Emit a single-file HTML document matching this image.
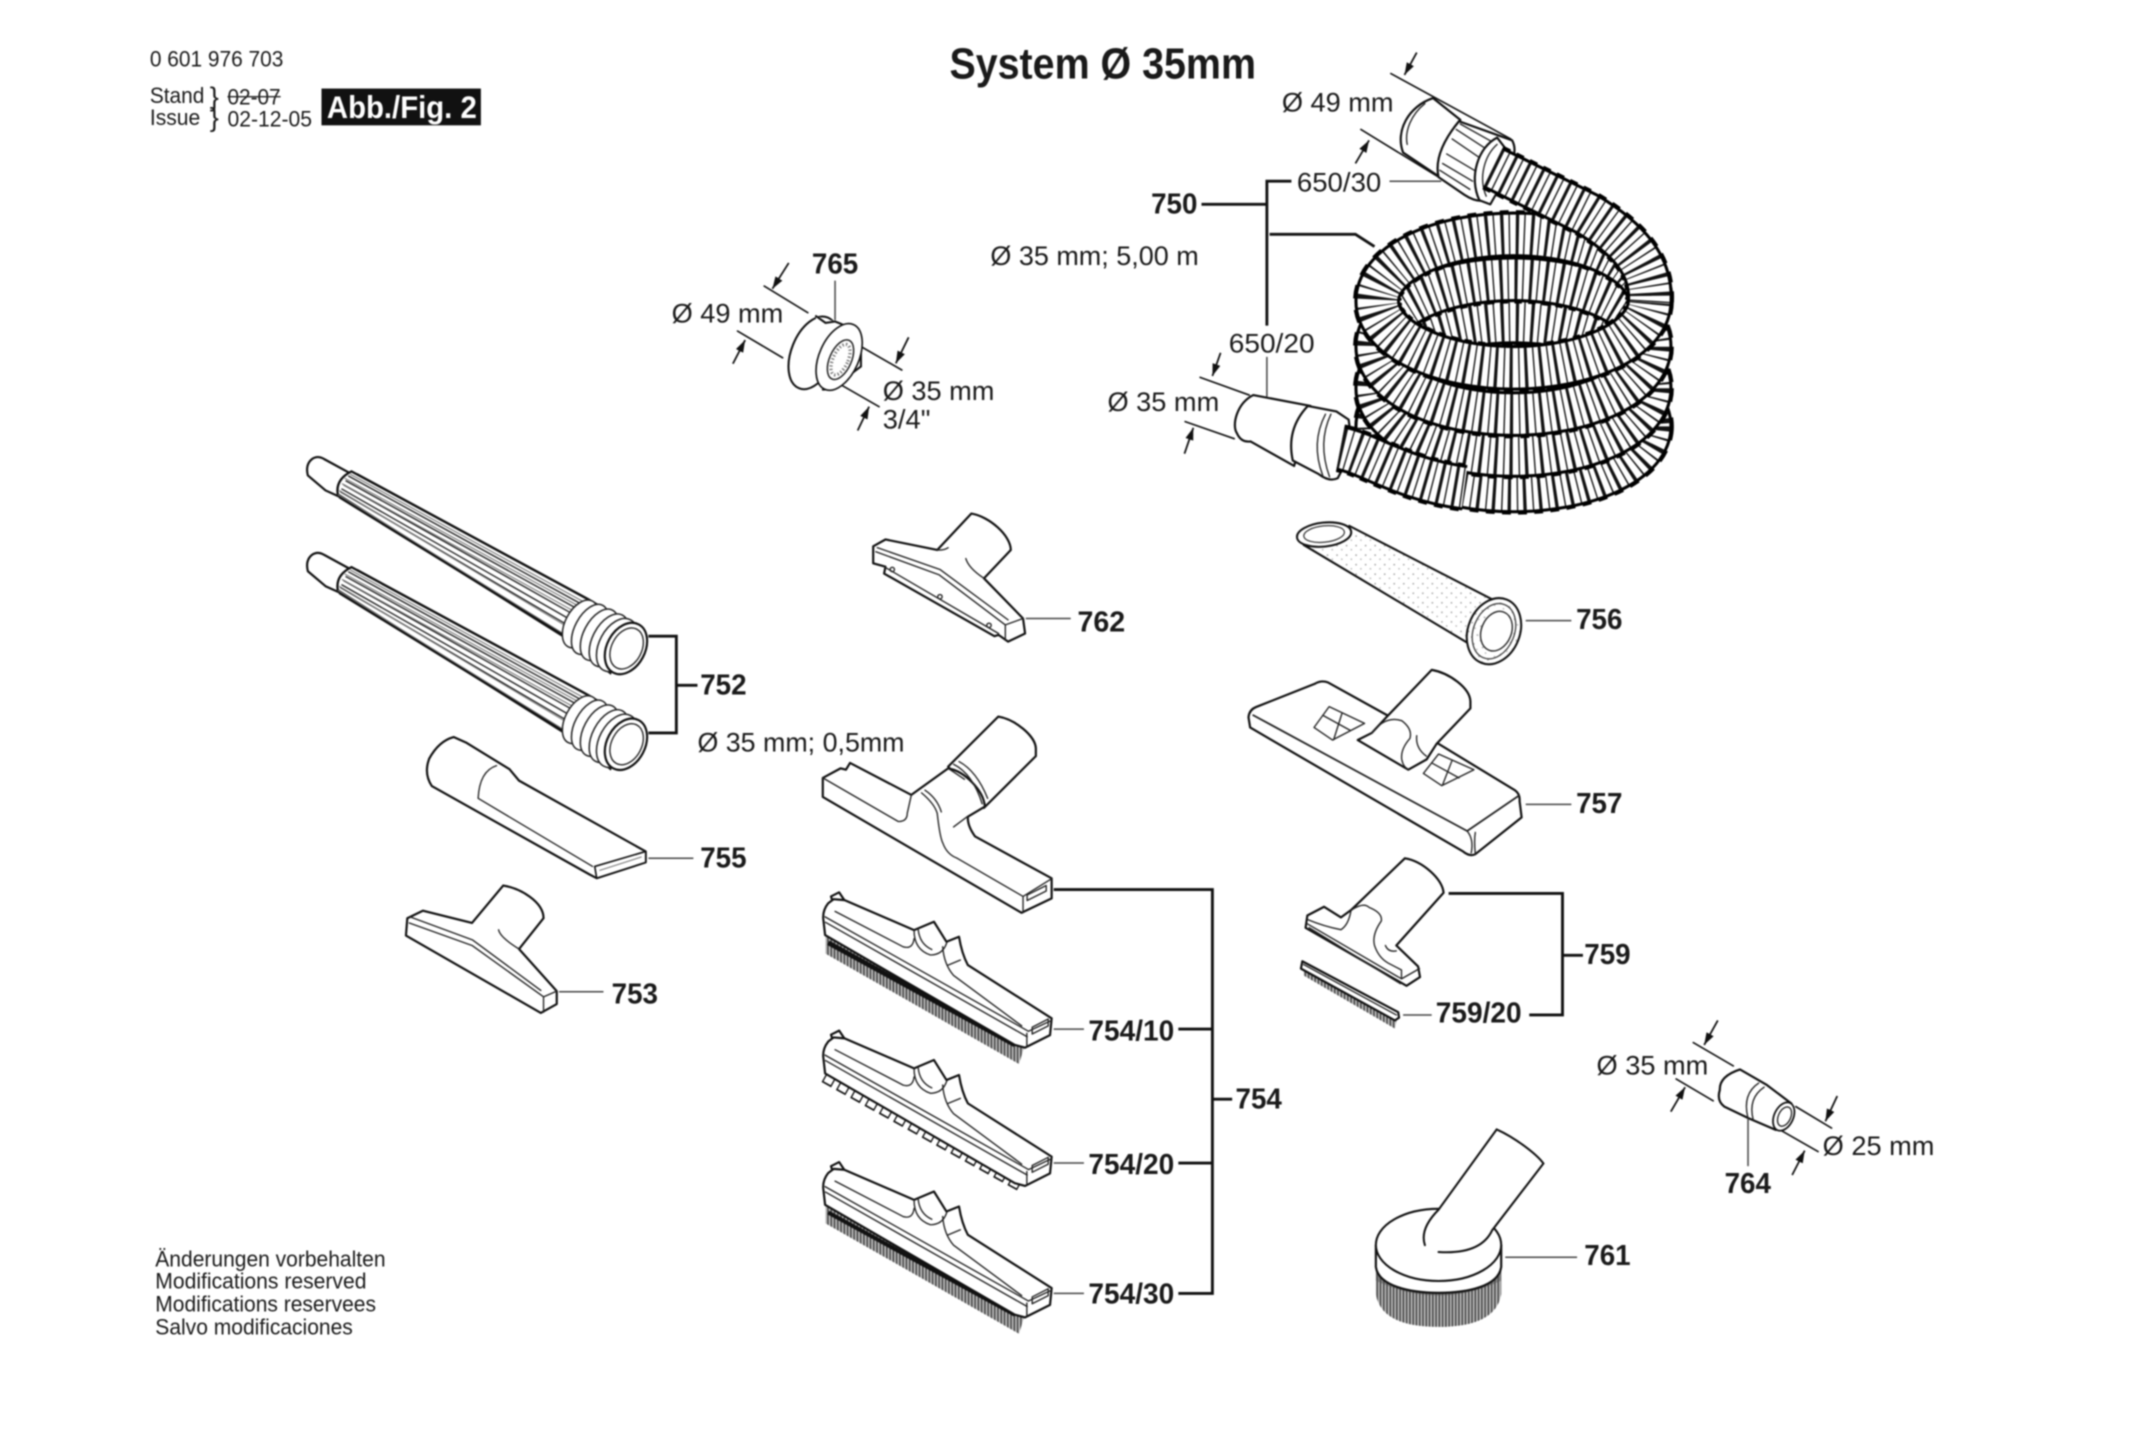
<!DOCTYPE html>
<html><head><meta charset="utf-8"><title>System Ø 35mm</title>
<style>
html,body{margin:0;padding:0;background:#fff;width:2136px;height:1440px;overflow:hidden}
svg{display:block;filter:blur(.75px)}
text{font-family:"Liberation Sans",sans-serif;fill:#1a1a1a;font-size:20px;transform:translateY(.7px)}
.b{font-weight:bold;font-size:21px}
.s{font-size:16px}
.n{font-size:16.5px}
.p{fill:#fff;stroke:#111;stroke-width:1.6;stroke-linejoin:round;stroke-linecap:round}
.i{fill:none;stroke:#222;stroke-width:1;stroke-linecap:round;stroke-linejoin:round}
.g{fill:none;stroke:#777;stroke-width:.8}
.k{fill:none;stroke:#111;stroke-width:2.1;stroke-linejoin:miter}
.t{fill:none;stroke:#444;stroke-width:1.1}
.d{fill:none;stroke:#111;stroke-width:1.2;stroke-linecap:round}
.a{fill:none;stroke:#111;stroke-width:1.3;marker-end:url(#ar)}
.h1,.h2,.h3,.h4{fill:none;stroke-linecap:butt}
.h1{stroke:#000;stroke-width:35.5;stroke-dasharray:6 5}
.h2{stroke:#000;stroke-width:33.5}
.h3{stroke:#fff;stroke-width:29}
.h4{stroke:#111;stroke-width:29.5;stroke-dasharray:2.3 3.5 1 4.2}
</style></head><body>
<svg xmlns="http://www.w3.org/2000/svg" width="2136" height="1440" viewBox="0 0 1568 1057" preserveAspectRatio="none">
<defs>
<marker id="ar" markerUnits="userSpaceOnUse" markerWidth="10" markerHeight="8" refX="9" refY="3" orient="auto"><path d="M0,0 L9,3 L0,6 Z" fill="#111"/></marker>
<pattern id="ht" width="2.4" height="3" patternUnits="userSpaceOnUse"><rect width="2.4" height="3" fill="#c4c4c4"/><rect width="1.2" height="3" fill="#444"/></pattern>
<pattern id="st" width="7" height="7" patternUnits="userSpaceOnUse"><rect width="7" height="7" fill="#fff"/><circle cx="1.5" cy="1.5" r=".6" fill="#999"/><circle cx="5" cy="4.5" r=".6" fill="#aaa"/></pattern>
<ellipse id="e1" cx="1111" cy="221" rx="100" ry="49"/>
<ellipse id="e2" cx="1111" cy="254.5" rx="100" ry="49.5"/>
<ellipse id="e3" cx="1111" cy="285" rx="100" ry="49"/>
<ellipse id="e4" cx="1111" cy="313" rx="100" ry="47"/>
<path id="e5" d="M1096,123 L1165,157 C1195,175 1213,195 1211,222"/>
<path id="e6" d="M984,329 C1005,333 1030,352 1075,358"/>
<g id="hd">
<path class="p" d="M612,664 L610,658 L616,655 L620,661 Z"/>
<path class="p" d="M620,660.7 L612,660 L608,663 Q604,668 604.3,674 L605.7,686.4 L745,767 L752.5,769 L770.8,759.8 L772,747.5 L710.5,708.4 Q706,700 704,687.6 L694.8,691.3 L685.6,676.6 L671,682.7 Z"/>
<path class="i" d="M605.7,673 L755,757 L772,749"/>
<path class="i" d="M606,677 L754,761"/>
<path class="i" d="M613,669 L663,695 Q670,697 671,689"/>
<path class="i" d="M671,683 Q671,697 683,701 Q692,701 695,692"/>
<path class="i" d="M674,682 Q675,693 684,697"/>
<path class="i" d="M692,695 Q693,708 700,716 L750,753"/>
<path class="i" d="M696,708.4 L705,704.7"/>
<path class="i" d="M753.8,758.5 V768"/>
<path class="i" d="M757.7,754 L769.5,748 V753 L757.7,759 Z"/>
</g>
<g id="wd">
<path class="p" d="M226,349 Q224,341 229,337 Q233,334 238,337 L260,349 L250,365 L239,360 Z"/>
<path d="M258,346 L432,440 L462,458 L448,494 L415,468 L248,363 Q246,352 258,346 Z" fill="#fff" stroke="#111" stroke-width="1.7"/>
<path class="i" stroke="#333" d="M256,349.5 L426,443 M254,353 L424,447 M252.5,356 L421,451 M251,359 L419,455 M250,361 L417,459"/>
<path class="g" d="M257,348 L428,441.5 M253,351 L425,445 M251,355 L422,449 M249,360 L418,461 M248,363 L415,466"/>
<path d="M262,348 L430,439 M249,365 L413,466" fill="none" stroke="#111" stroke-width="1.6"/>
<g fill="#fff" stroke="#222" stroke-width="1.1">
<ellipse cx="426" cy="458" rx="11" ry="19" transform="rotate(28 426 458)"/>
<ellipse cx="433" cy="462" rx="11" ry="20" transform="rotate(28 433 462)"/>
<ellipse cx="440" cy="466" rx="11.5" ry="20.5" transform="rotate(28 440 466)"/>
<ellipse cx="447" cy="470" rx="12" ry="21" transform="rotate(28 447 470)"/>
<ellipse cx="453" cy="473.5" rx="13" ry="21" transform="rotate(28 453 473.5)"/>
</g>
<ellipse cx="459.5" cy="476" rx="14" ry="20" transform="rotate(28 459.5 476)" fill="#fff" stroke="#111" stroke-width="1.6"/>
<ellipse cx="460" cy="476" rx="11" ry="16" transform="rotate(28 460 476)" fill="#fff" stroke="#222" stroke-width="1"/>
</g>
</defs>

<rect width="1568" height="1057" fill="#fff"/>

<!-- header -->
<text class="s" x="110" y="48" textLength="98" lengthAdjust="spacingAndGlyphs">0 601 976 703</text>
<text class="s" x="110" y="75" textLength="40" lengthAdjust="spacingAndGlyphs">Stand</text>
<text class="s" x="110" y="91" textLength="37" lengthAdjust="spacingAndGlyphs">Issue</text>
<text x="154" y="77" style="font-size:20px">}</text>
<text x="154" y="92" style="font-size:20px">}</text>
<text class="s" x="167" y="76" textLength="39" lengthAdjust="spacingAndGlyphs">02-07</text>
<path d="M167,71 H206" stroke="#222" stroke-width="1"/>
<text class="s" x="167" y="92" textLength="62" lengthAdjust="spacingAndGlyphs">02-12-05</text>
<rect x="236" y="65" width="117" height="27" fill="#111"/>
<text x="240" y="86" style="font-size:23px;font-weight:bold;fill:#fff" textLength="110" lengthAdjust="spacingAndGlyphs">Abb./Fig. 2</text>
<text x="697" y="57" style="font-size:32px;font-weight:bold" textLength="225" lengthAdjust="spacingAndGlyphs">System Ø 35mm</text>

<!-- hose loops -->
<g>
<use href="#e4" class="h1"/><use href="#e4" class="h2"/><use href="#e4" class="h3"/><use href="#e4" class="h4"/>
<use href="#e3" class="h1"/><use href="#e3" class="h2"/><use href="#e3" class="h3"/><use href="#e3" class="h4"/>
<use href="#e2" class="h1"/><use href="#e2" class="h2"/><use href="#e2" class="h3"/><use href="#e2" class="h4"/>
<use href="#e1" class="h1"/><use href="#e1" class="h2"/><use href="#e1" class="h3"/><use href="#e1" class="h4"/>
</g>
<!-- top connector -->
<path class="p" d="M1052,72 C1034,78 1024,96 1030,112 L1057,130 L1072,88 Z"/>
<path class="i" d="M1046,76 C1036,84 1031,96 1033,106"/>
<path class="p" d="M1071,89 L1110,103 Q1115,112 1106,125 L1092,147 Q1084,149 1075,143 L1056,130 Q1052,112 1071,89 Z"/>
<path class="i" d="M1062,113 L1084,126 M1059,120 L1081,133 M1057,125 L1079,139 M1066,102 L1088,117 M1069,95 L1092,110 M1072,91 L1097,105"/>
<path class="p" d="M1099,101 C1085,108 1078,130 1086,147 L1094,150 L1112,118 Z"/>
<path class="i" d="M1099,106 C1090,114 1085,130 1091,144"/>
<!-- bottom connector -->
<path class="p" d="M920,290 C908,296 904,312 908,318 Q911,325 918,324 L950,342 L962,298 Z"/>
<path class="p" d="M960,298 L981,302 L990,308 Q994,330 982,351 Q976,354 968,348 L949,338 Q944,315 960,298 Z"/>
<path class="i" d="M973,304 Q962,325 971,349 M977,304 Q967,325 976,350"/>
<!-- hose ends -->
<g>
<use href="#e6" class="h1"/><use href="#e6" class="h2"/><use href="#e6" class="h3"/><use href="#e6" class="h4"/>
<use href="#e5" class="h1"/><use href="#e5" class="h2"/><use href="#e5" class="h3"/><use href="#e5" class="h4"/>
</g>

<!-- 750 bracket -->
<path class="k" d="M882,150 H929 M948,133 H930 V239 M932,172 H995 L1009,181"/>
<path class="t" d="M1020,133 H1058 M930,262 V291" stroke="#777"/>
<path class="d" d="M1021,54 L1109,102 M999,95 L1056,130 M881,277 L917,290 M870,309.5 L906,322"/>
<path class="a" d="M1040,38.6 L1031,55"/><path class="a" d="M995,120 L1005,103"/>
<path class="a" d="M896,259 L890,276"/><path class="a" d="M869.5,333 L876,314"/>
<text x="941" y="81" textLength="82" lengthAdjust="spacingAndGlyphs">Ø 49 mm</text>
<text x="952" y="140" textLength="62" lengthAdjust="spacingAndGlyphs">650/30</text>
<text class="b" x="845" y="156" textLength="34" lengthAdjust="spacingAndGlyphs">750</text>
<text x="727" y="194" textLength="153" lengthAdjust="spacingAndGlyphs">Ø 35 mm; 5,00 m</text>
<text x="902" y="258" textLength="63" lengthAdjust="spacingAndGlyphs">650/20</text>
<text x="813" y="301" textLength="82" lengthAdjust="spacingAndGlyphs">Ø 35 mm</text>

<!-- 765 -->
<path class="d" d="M561,210 L593,229.5 M541.4,243 L574.5,262.6 M627,251.5 L662,271.6 M613,280 L645.3,298.5"/>
<path class="t" d="M613,206 V235"/>
<path class="a" d="M579,193 L567,212"/><path class="a" d="M538,267 L547,249.6"/>
<path class="a" d="M667,247.6 L657.6,266.7"/><path class="a" d="M629.6,316 L638,298.5"/>
<ellipse cx="597" cy="259" rx="16" ry="28" transform="rotate(22 597 259)" fill="#fff" stroke="#111" stroke-width="1.5"/>
<path class="p" d="M599,232 L613,236 L632,247 L632,269 L607,286 L600,280 Z" style="stroke:none"/>
<path class="d" style="stroke-width:1.5" d="M599,232 L606,237 L613,236 Q622,239 632,247 V269 L612,284 Q608,286 604,286"/>
<ellipse cx="616" cy="262" rx="14.5" ry="26" transform="rotate(24 616 262)" fill="#fff" stroke="#111" stroke-width="1.2"/>
<ellipse cx="617" cy="264" rx="8" ry="15.5" transform="rotate(24 617 264)" fill="#fff" stroke="#222" stroke-width="1.1"/>
<ellipse cx="617" cy="264" rx="5.5" ry="12" transform="rotate(24 617 264)" fill="none" stroke="#777" stroke-width="2.4" stroke-dasharray="1 1.6"/>
<text class="b" x="596" y="200" textLength="34" lengthAdjust="spacingAndGlyphs">765</text>
<text x="493" y="236" textLength="82" lengthAdjust="spacingAndGlyphs">Ø 49 mm</text>
<text x="648" y="293" textLength="82" lengthAdjust="spacingAndGlyphs">Ø 35 mm</text>
<text x="648" y="314" textLength="35" lengthAdjust="spacingAndGlyphs">3/4"</text>

<!-- wands 752 -->
<use href="#wd"/>
<use href="#wd" transform="translate(0,70.3)"/>
<path class="k" d="M476,467 H496.5 V538 H476 M497,503 H512"/>
<text class="b" x="514" y="509" textLength="34" lengthAdjust="spacingAndGlyphs">752</text>
<text x="512" y="551" textLength="152" lengthAdjust="spacingAndGlyphs">Ø 35 mm; 0,5mm</text>

<!-- 755 -->
<path class="p" d="M333,541 Q322,544 315,557 Q311,568 317,577 L433,642 L438,644.6 L474,633 V625 L381,573 L374,564.6 L342,545 Z"/>
<path class="i" d="M364.5,562 Q352,566 351,586 L435,636"/>
<path class="p" d="M436.6,636 L474,625 V633 L438,644.6 Z" style="stroke-width:1.2"/>
<path class="g" d="M440,639 L471,629"/>
<path class="t" d="M476,630 H509"/>
<text class="b" x="514" y="636" textLength="34" lengthAdjust="spacingAndGlyphs">755</text>

<!-- 753 -->
<path class="p" d="M346.5,677.5 L369.4,650 C382,652 399,662 399,674 L381,696.6 L408.7,727.5 V737 L397,743.5 L298,686.7 L299,674 L310.4,668.5 Z"/>
<path class="i" d="M300.5,677.5 L346.5,694 L399,731.7 V743 M399,731.7 L408.7,727.5"/>
<path class="i" d="M301,673 L347,690 L397,727"/>
<path class="i" d="M366,682.5 Q367,688 381,696.6"/>
<path class="t" d="M410.4,728 H443"/>
<text class="b" x="449" y="736" textLength="34" lengthAdjust="spacingAndGlyphs">753</text>

<!-- 762 -->
<path class="p" d="M688,403.7 L713,377 C726,379 742,393 742,403.7 L722.3,424.5 L751,454 L752.5,465 L740,471 L733,466 L730,467 L649,421 L650,416 L641,413.5 V401 L650,396 Z"/>
<path class="i" d="M643,405 L689.5,422 L738,458.7 M644,402 L690,418 L740,455"/>
<path class="i" d="M649,416 L733,465"/>
<path class="i" d="M709,410 Q711,417 722.3,424.5 M688,403.7 Q693,404 696,402 M738,458.7 V470 M738,458.7 L751,454"/>
<circle cx="655" cy="418" r="1.6" class="i"/><circle cx="690" cy="438" r="1.6" class="i"/><circle cx="726" cy="459" r="1.6" class="i"/>
<path class="t" d="M753,454 H786"/>
<text class="b" x="791" y="463" textLength="35" lengthAdjust="spacingAndGlyphs">762</text>

<!-- 754 main -->
<path class="p" d="M732.8,526 C745,528 760,540 760.4,549.3 V555 L722.3,593 L696,562.7 Z"/>
<path class="p" d="M624,560 L621,565 L617,564 L604,571 V585 L749.9,670 L772,659.4 V644.7 L715.8,614 Q710,606 710.5,599.5 L723,592 C722,580 708,566 696,564 L673.8,580 L669,583.5 Z"/>
<path class="i" d="M604,571 L659.4,603 Q666,603 666,597 L669,583.5"/>
<path class="i" d="M676.5,582 Q686,590 688,597 Q690,615 692.2,619 Q695,627 702.7,630 L751,658 V670 M751,658 L772,645"/>
<path class="i" d="M679,580 Q688,586 691,596 M700,561 Q714,568 721,590 M704,559 Q717,566 725,586 M696,564 L708,572"/>
<path class="i" d="M700,607 L710,599.5"/>
<path class="i" d="M754,657 L768,650 V654 L754,661 Z"/>
<path class="k" d="M773.5,653 H890 V949.4 H865 M865,755.4 H890 M865,853.7 H890 M890,806.8 H904.5"/>

<!-- 754/10 -->
<path d="M606,686 L606,700 L748,781 L752,768 Z" fill="url(#ht)"/>
<path d="M608,692 L745,767" stroke="#111" stroke-width="3.5" fill="none"/>
<use href="#hd"/>
<path class="t" d="M773.5,755.4 H795.7"/>
<text class="b" x="799" y="763" textLength="63" lengthAdjust="spacingAndGlyphs">754/10</text>

<!-- 754/20 -->
<path d="M606,789 L752,870" stroke="#111" stroke-width="12" stroke-dasharray="8 4" fill="none"/>
<path d="M606,789 L752,870" stroke="#fff" stroke-width="9.5" stroke-dasharray="6 6" stroke-dashoffset="-1" fill="none"/>
<use href="#hd" transform="translate(0,101.5)"/>
<path class="t" d="M773.5,853.7 H795.7"/>
<text class="b" x="799" y="861" textLength="63" lengthAdjust="spacingAndGlyphs">754/20</text>

<!-- 754/30 -->
<g transform="translate(0,198)">
<path d="M606,686 L606,700 L748,781 L752,768 Z" fill="url(#ht)"/>
<path d="M608,692 L745,767" stroke="#111" stroke-width="3" fill="none"/>
</g>
<use href="#hd" transform="translate(0,198)"/>
<path class="t" d="M773.5,949.4 H795.7"/>
<text class="b" x="799" y="956" textLength="63" lengthAdjust="spacingAndGlyphs">754/30</text>
<text class="b" x="907" y="813" textLength="34" lengthAdjust="spacingAndGlyphs">754</text>

<!-- 756 -->
<path d="M957,400 L990.5,386 L1095.5,440 L1115,465 L1078,472 Z" fill="url(#st)" stroke="none"/>
<path class="d" style="stroke-width:1.5" d="M957,400 L1078,472.3 M990.5,386 L1095.5,440"/>
<ellipse cx="972" cy="392.4" rx="20" ry="8.8" transform="rotate(-6 972 392.4)" fill="#fff" stroke="#111" stroke-width="1.5"/>
<ellipse cx="972" cy="392" rx="15" ry="6" transform="rotate(-6 972 392)" fill="#fff" stroke="#333" stroke-width=".9"/>
<ellipse cx="1096.7" cy="463.3" rx="19" ry="25" transform="rotate(22 1096.7 463.3)" fill="url(#st)" stroke="#111" stroke-width="1.5"/>
<ellipse cx="1096.7" cy="463.3" rx="15" ry="21" transform="rotate(22 1096.7 463.3)" fill="none" stroke="#333" stroke-width=".9"/>
<ellipse cx="1098.5" cy="463.3" rx="11" ry="15" transform="rotate(22 1098.5 463.3)" fill="#fff" stroke="#222" stroke-width="1"/>
<path class="t" d="M1120,455.6 H1153.5"/>
<text class="b" x="1157" y="461" textLength="34" lengthAdjust="spacingAndGlyphs">756</text>

<!-- 757 -->
<path class="p" d="M916.5,526.5 Q917,521 922,519 L965,502 Q970,499 975,501 L1016.5,524 L1056,546 L1112,580 Q1116,583 1115.5,588 L1117,600 L1083,627 Q1079,629 1074,625 L917.7,534 Z"/>
<path class="i" style="stroke-width:1.3" d="M920,525 L1077,610 L1115,584"/>
<path class="i" d="M1077,610 Q1082,616 1080,626 M1083,611 Q1082,617 1083,627"/>
<path class="p" d="M1017.7,526.5 L1051,491.7 C1064,494 1079,505 1079.4,514.8 V520 L1054.7,545.8 L1047.3,557.4 L1033.8,565 L996.7,543.2 L1007,538 Z"/>
<path class="i" d="M1007,538 Q1017,525 1029,529 Q1037,535 1035,542 Q1028,550 1029,557.4 Q1030,563 1034,565 M1040,540 Q1039,549 1047,555"/>
<path class="i" d="M964.6,534 L975.7,518.7 L1001.7,531 L978.2,543.2 Z M971,525 L991,536 M985,524 L979,543"/>
<path class="i" d="M1044.9,567.7 L1056,553.5 L1082,565 L1058.4,576.7 Z M1051,560 L1071,571 M1066,558 L1059,576"/>
<path class="t" d="M1120,590.4 H1153.5"/>
<text class="b" x="1157" y="596" textLength="34" lengthAdjust="spacingAndGlyphs">757</text>

<!-- 759 -->
<path class="p" d="M991.8,668 L1031.3,630 C1044,632 1059,645 1059.7,655.3 L1025,694 L1041,709.4 L1042.4,717.2 L1032.5,723.6 L958.4,681 L959.7,672 L972,665.6 L984.4,673.4 Z"/>
<path class="i" d="M960,675 Q972,680 984.4,682.4 Q990,679 991.8,668"/>
<path class="i" d="M959.5,678 L1028.8,718.5 L1042,711 M961,681 L1028,722"/>
<path class="i" d="M992,668 Q1001,662 1005,666 Q1015,670 1014,676 Q1007,686 1009,694 Q1012,703 1019,706.9 L1028.8,712 L1028.8,718"/>
<path class="i" d="M1017,694 Q1019,699 1025,698"/>
<path class="k" d="M1063.4,655.8 H1147 V745 H1122.6 M1147,701.2 H1162"/>
<path d="M957,709 L957,716 L1024,755 L1026,745 Z" fill="url(#ht)"/>
<path class="p" d="M956,705.6 L1026.4,743 L1027,747 L1024,749 L955,711 Z"/>
<path class="i" d="M957,708 L1025,745"/>
<path class="t" d="M1030,745 H1051"/>
<text class="b" x="1054" y="750" textLength="63" lengthAdjust="spacingAndGlyphs">759/20</text>
<text class="b" x="1163" y="707" textLength="34" lengthAdjust="spacingAndGlyphs">759</text>

<!-- 761 -->
<path d="M1010,925 V950 Q1014,974 1056,974 Q1098,974 1102,950 V925 Z" fill="url(#ht)"/>
<path d="M1010,925 V940 Q1056,962 1102,940 V925 Z" fill="#555" opacity=".55"/>
<path class="p" d="M1010,914 V930 C1012,944 1035,949 1056,949 C1078,949 1100,944 1102,930 V914 Z"/>
<ellipse cx="1056" cy="913.8" rx="46" ry="26.5" fill="#fff" stroke="#111" stroke-width="1.5"/>
<path class="p" style="fill:#fff;stroke:none" d="M1056,888 L1098.7,829 L1133,854 L1095.4,903 Q1088,918 1056,919 L1046,914 Q1044,902 1056,888 Z"/>
<path class="d" style="stroke-width:1.5" d="M1046,914 Q1042,902 1056,888 L1098.7,829 C1112,835 1128,847 1133,854 L1095.4,903 Q1087,921 1056,919"/>
<path class="t" d="M1105,922.9 H1157.7"/>
<text class="b" x="1163" y="928" textLength="34" lengthAdjust="spacingAndGlyphs">761</text>

<!-- 764 -->
<path class="d" d="M1243,765.3 L1272.4,782.4 M1230.4,792 L1257.6,808 M1318.3,812.3 L1344.5,828 M1306.8,829.4 L1334.6,845.3"/>
<path class="a" d="M1261,749 L1251,767"/><path class="a" d="M1226.5,816 L1237,798"/>
<path class="a" d="M1348.7,804.5 L1340,823"/><path class="a" d="M1315.6,862.5 L1324.8,844.6"/>
<path class="p" d="M1277.3,785 Q1262,790 1262.5,800 Q1260,808 1265.8,812.3 L1283.8,820.9 L1303.5,829.4 L1315,810 L1297,796.4 Z"/>
<path class="i" d="M1291,795 Q1279,803 1283,820 M1295,798 Q1283,806 1287,822"/>
<ellipse cx="1309.4" cy="819.6" rx="7" ry="11" transform="rotate(25 1309.4 819.6)" fill="#fff" stroke="#111" stroke-width="1.3"/>
<ellipse cx="1310" cy="819.6" rx="4.5" ry="7.5" transform="rotate(25 1310 819.6)" fill="#fff" stroke="#222" stroke-width="1"/>
<path class="t" d="M1283.2,821 V856"/>
<text x="1172" y="788" textLength="82" lengthAdjust="spacingAndGlyphs">Ø 35 mm</text>
<text x="1338" y="847" textLength="82" lengthAdjust="spacingAndGlyphs">Ø 25 mm</text>
<text class="b" x="1266" y="875" textLength="34" lengthAdjust="spacingAndGlyphs">764</text>

<!-- notes -->
<text class="n" x="114" y="929" textLength="169" lengthAdjust="spacingAndGlyphs">Änderungen vorbehalten</text>
<text class="n" x="114" y="945" textLength="155" lengthAdjust="spacingAndGlyphs">Modifications reserved</text>
<text class="n" x="114" y="962" textLength="162" lengthAdjust="spacingAndGlyphs">Modifications reservees</text>
<text class="n" x="114" y="979" textLength="145" lengthAdjust="spacingAndGlyphs">Salvo modificaciones</text>
</svg>
</body></html>
